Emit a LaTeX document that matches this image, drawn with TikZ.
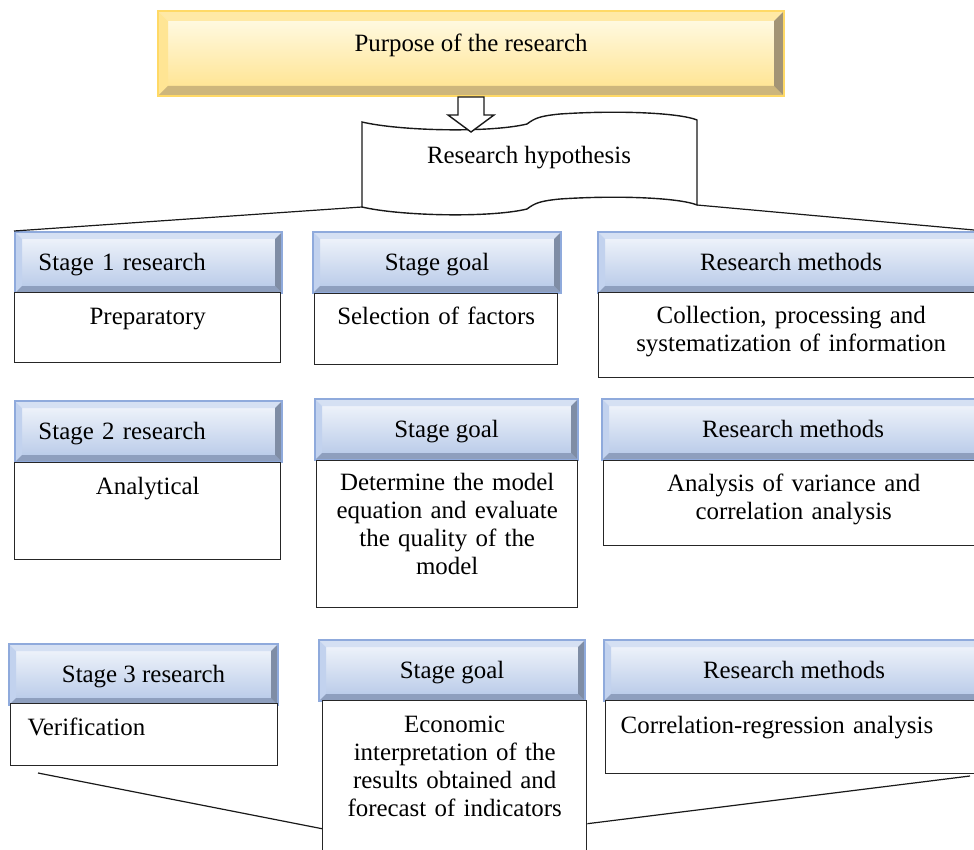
\documentclass[tikz,border=0pt]{standalone}
\usepackage{fontspec}
\setmainfont{Liberation Serif}

\definecolor{headedge}{HTML}{8FAADC}
\definecolor{headtop}{HTML}{F4F7FC}
\definecolor{headbot}{HTML}{B4C7E7}
\definecolor{headlight}{HTML}{D5E0F3}
\definecolor{headside}{HTML}{C2D2EE}
\definecolor{headshade}{HTML}{8E9FBE}
\definecolor{headdark}{HTML}{7F8DA5}
\definecolor{goldedge}{HTML}{FFD966}
\definecolor{goldtop}{HTML}{FFFCEB}
\definecolor{goldbot}{HTML}{FFE28A}
\definecolor{goldlight}{HTML}{FFE9A6}
\definecolor{goldside}{HTML}{FFE594}
\definecolor{goldshade}{HTML}{CDB67C}
\definecolor{golddark}{HTML}{A39475}

\tikzset{
  bevel/.style n args={5}{path picture={
      \path (path picture bounding box.south west) coordinate (bvsw)
            (path picture bounding box.south east) coordinate (bvse)
            (path picture bounding box.north east) coordinate (bvne)
            (path picture bounding box.north west) coordinate (bvnw);
      \path ([shift={(#5,#5)}]bvsw) coordinate (bvisw)
            ([shift={(-#5,#5)}]bvse) coordinate (bvise)
            ([shift={(-#5,-#5)}]bvne) coordinate (bvine)
            ([shift={(#5,-#5)}]bvnw) coordinate (bvinw);
      \fill[#1] (bvnw) -- (bvne) -- (bvine) -- (bvinw) -- cycle;
      \fill[#2] (bvnw) -- (bvinw) -- (bvisw) -- (bvsw) -- cycle;
      \fill[#3] (bvsw) -- (bvse) -- (bvise) -- (bvisw) -- cycle;
      \fill[#4] (bvne) -- (bvse) -- (bvise) -- (bvine) -- cycle;
  }},
  goldbox/.style={draw=goldedge, line width=1pt, top color=goldtop, bottom color=goldbot,
    bevel={goldlight}{goldside}{goldshade}{golddark}{5pt},
    anchor=north west, inner sep=0pt},
  headbox/.style={draw=headedge, line width=1pt, top color=headtop, bottom color=headbot,
    bevel={headlight}{headside}{headshade}{headdark}{3.5pt},
    anchor=north west, inner sep=0pt, minimum height=30.5pt,
    text height=10.5pt, text depth=2.5pt},
  bodybox/.style={draw=black!85, line width=0.7pt, fill=white,
    anchor=north west, inner sep=0pt, align=center},
  outline/.style={draw=black!90, line width=0.7pt, fill=white},
  link/.style={draw=black!90, line width=0.6pt},
}

\begin{document}
\begin{tikzpicture}[x=0.5pt, y=-0.5pt,
    every node/.style={font=\fontsize{12.45}{14}\selectfont}]
  \useasboundingbox (0,0) rectangle (974,850);

  % purpose and hypothesis
  \node[goldbox, minimum width=313pt, text height=20.5pt, text depth=22pt] (purpose) at (157,10) {Purpose of the research};

  \draw[outline] (362,122) .. controls (400,131) and (490,133) .. (527,124)
    .. controls (535,118) and (540,116) .. (560,114)
    .. controls (620,110) and (680,113) .. (697,120) -- (697,205)
    .. controls (680,198) and (620,195) .. (560,199)
    .. controls (540,201) and (535,203) .. (527,209)
    .. controls (490,218) and (400,216) .. (362,207) -- cycle;
  \node[inner sep=0pt] (hyp) at (529,158) {Research hypothesis};
  \coordinate (hypl) at (362,207);
  \coordinate (hypr) at (697,205);

  \draw[outline] ([xshift=-6.5pt]purpose.south) -- ++(0,18) -- ++(-10,0) -- ++(23,17)
    -- ++(23,-17) -- ++(-10,0) -- ++(0,-18) -- cycle;

  % stage 1
  \node[headbox, minimum width=133.5pt, text width=110pt, align=left] (st1) at (14,231) {Stage 1 research};
  \node[headbox, minimum width=124pt] (goal1) at (312,231) {Stage goal};
  \node[headbox, minimum width=193pt] (meth1) at (597,231) {Research methods};
  \node[bodybox, text width=133pt, text height=16pt, text depth=19pt] (prep) at (14,292) {Preparatory};
  \node[bodybox, text width=121.5pt, text height=15.5pt, text depth=20pt] (sel) at (314,293) {Selection of factors};
  \node[bodybox, text width=192.5pt, text height=15.5pt, text depth=27pt] (coll) at (598,292) {Collection, processing and\\systematization of information};

  \draw[link] (hypl) -- (st1.north west);
  \draw[link] (hypr) -- (meth1.north east);

  % stage 2
  \node[headbox, minimum width=133.5pt, text width=110pt, align=left] (st2) at (14,400) {Stage 2 research};
  \node[headbox, minimum width=131.5pt] (goal2) at (314,398) {Stage goal};
  \node[headbox, minimum width=191pt] (meth2) at (601,398) {Research methods};
  \node[bodybox, text width=133pt, text height=16pt, text depth=32.5pt] (anal) at (14,462) {Analytical};
  \node[bodybox, text width=130.5pt, text height=15pt, text depth=58.5pt] (model) at (316,460) {Determine the model\\equation and evaluate\\the quality of the\\model};
  \node[bodybox, text width=190pt, text height=15.5pt, text depth=27pt] (var) at (603,460) {Analysis of variance and\\correlation analysis};

  % stage 3
  \node[headbox, minimum width=134.5pt] (st3) at (8,643) {Stage 3 research};
  \node[headbox, minimum width=133pt] (goal3) at (318,639) {Stage goal};
  \node[headbox, minimum width=190pt] (meth3) at (603,639) {Research methods};
  \node[bodybox, minimum width=133.5pt, text width=116.5pt, align=left, text height=16pt, text depth=15pt] (verif) at (10,703) {Verification};
  \node[bodybox, text width=132pt, text height=16pt, text depth=69pt] (econ) at (322,700) {Economic\\interpretation of the\\results obtained and\\forecast of indicators};
  \node[bodybox, minimum width=189pt, text width=174pt, align=left, text height=16.5pt, text depth=20pt] (corr) at (605,700) {Correlation-regression analysis};

  \coordinate (lowl) at (38,773);
  \coordinate (lowr) at (970,776);
  \draw[link] (lowl) -- ([yshift=-21.5pt]econ.west);
  \draw[link] ([yshift=-19pt]econ.east) -- (lowr);
\end{tikzpicture}
\end{document}
